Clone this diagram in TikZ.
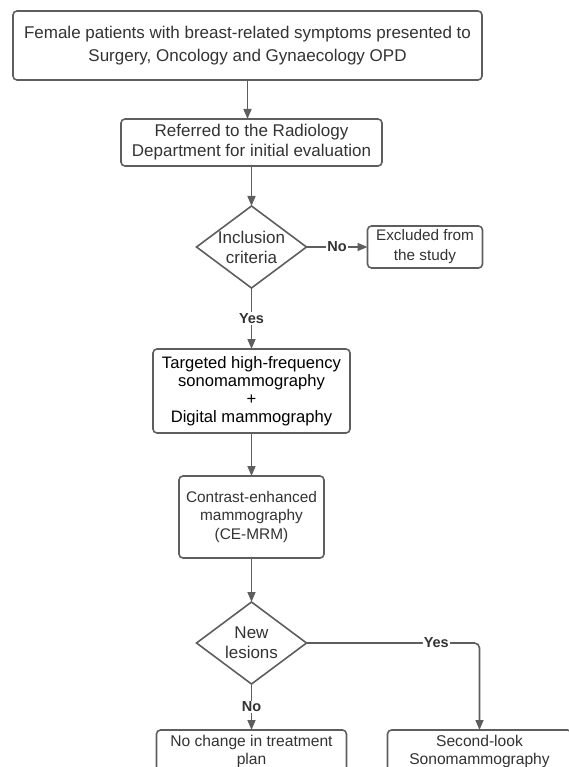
\documentclass[tikz,border=0pt]{standalone}
\usepackage{fontspec}
\setmainfont{Liberation Sans}
\usepackage{xcolor}
\usetikzlibrary{arrows.meta,positioning,shapes.geometric}
\definecolor{linegray}{HTML}{5E5E5E}
\definecolor{textgray}{HTML}{333333}
\tikzset{
  stepbox/.style={
    rectangle, rounded corners=4pt, draw=linegray, line width=1.6pt,
    fill=white, text=textgray, align=center, inner sep=0pt, outer sep=0pt
  },
  decision/.style={
    diamond, draw=linegray, line width=1.6pt, fill=white, inner sep=0pt,
    outer sep=0pt, minimum width=110pt, minimum height=82pt
  },
  dtext/.style={text=textgray, align=center, font=\fontsize{17}{20}\selectfont},
  flow/.style={-{Triangle[length=10pt,width=8pt]}, line width=1.6pt, linegray},
  answer/.style={fill=white, inner sep=1pt, text=textgray,
    font=\fontsize{14.5}{16}\selectfont\bfseries},
  endbox/.style={stepbox, text height=30pt, text depth=4pt, inner ysep=4pt,
    font=\fontsize{15.6}{18}\selectfont},
}

\begin{document}
\begin{tikzpicture}
  % Frame of the page (the reference is cut off at the bottom)
  \path[use as bounding box, clip] (0pt,0pt) rectangle (569pt,-767pt);

  % Referral chain
  \node[stepbox, minimum width=469pt, minimum height=69pt,
    font=\fontsize{17}{23}\selectfont] (patients) at (247.5pt,-45.5pt)
    {Female patients with breast-related symptoms presented to\\Surgery, Oncology and Gynaecology OPD};
  \node[stepbox, below=39pt of patients, xshift=4pt, minimum width=261pt,
    minimum height=47pt, font=\fontsize{17}{20}\selectfont] (referral)
    {Referred to the Radiology\\Department for initial evaluation};

  % First decision
  \node[decision, below=40pt of referral,
    label={[dtext]center:{Inclusion\\criteria}}] (inclusion) {};
  \node[stepbox, right=61pt of inclusion, minimum width=115pt,
    minimum height=42pt, font=\fontsize{15.3}{20}\selectfont] (excluded)
    {Excluded from\\the study};

  % Imaging
  \node[stepbox, below=61pt of inclusion, minimum width=197pt,
    minimum height=84pt, text=black, font=\fontsize{16.6}{18}\selectfont] (targeted)
    {Targeted high-frequency\\sonomammography\\+\\Digital mammography};
  \node[stepbox, below=43pt of targeted, minimum width=145pt,
    minimum height=82pt, font=\fontsize{15.4}{18.5}\selectfont] (cemrm)
    {Contrast-enhanced\\mammography\\(CE-MRM)};

  % Second decision
  \node[decision, below=44pt of cemrm,
    label={[dtext]center:{New\\lesions}}] (lesions) {};

  % Outcomes (the boxes run off the page)
  \node[endbox, below=46pt of lesions, minimum width=190pt] (nochange)
    {No change in treatment\\plan};
  \node[endbox, right=41pt of nochange, minimum width=184pt] (secondlook)
    {Second-look\\Sonomammography};

  % Connectors
  \draw[flow] (patients.south) -- (patients.south |- referral.north);
  \draw[flow] (referral) -- (inclusion);
  \draw[flow] (inclusion) -- node[answer] {No} (excluded);
  \draw[flow] (inclusion) -- node[answer] {Yes} (targeted);
  \draw[flow] (targeted) -- (cemrm);
  \draw[flow] (cemrm) -- (lesions);
  \draw[flow] (lesions) -- node[answer] {No} (nochange);
  \draw[flow, rounded corners=5pt] (lesions.east) -| node[answer, pos=0.375] {Yes}
    (secondlook.north);
\end{tikzpicture}
\end{document}
